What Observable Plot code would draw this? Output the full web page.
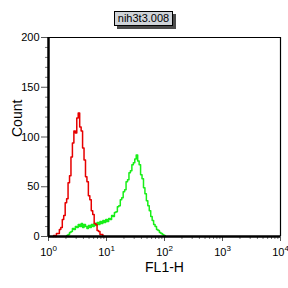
<!DOCTYPE html>
<html><head><meta charset="utf-8">
<script src="https://cdn.jsdelivr.net/npm/d3@7"></script>
<script src="https://cdn.jsdelivr.net/npm/@observablehq/plot@0.6"></script>
<style>
html,body{margin:0;padding:0;background:#fff;width:288px;height:288px;overflow:hidden}
#wrap{position:relative;width:288px;height:288px}
#title{position:absolute;left:114px;top:11px;width:57px;height:13px;line-height:13px;background:#cfd3d8;border:1px solid #000;box-shadow:3px 3px 0 #4a4a4a;font:11px "Liberation Sans",Arial,sans-serif;text-align:center;color:#000;z-index:2}
#chart{position:absolute;left:0;top:0}
</style></head>
<body><div id="wrap"><div id="title"></div><div id="chart"></div></div>
<script>
const title = "nih3t3.008";
const xLabel = "FL1-H";
const yLabel = "Count";
const xTicks = [1, 10, 100, 1000, 10000];
const xTickExp = ["0", "1", "2", "3", "4"];
const xMinorTicks = [2,3,4,5,6,7,8,9,20,30,40,50,60,70,80,90,200,300,400,500,600,700,800,900,2000,3000,4000,5000,6000,7000,8000,9000];
const yTicks = [0, 50, 100, 150, 200];
const yMinorTicks = [10,20,30,40,60,70,80,90,110,120,130,140,160,170,180,190];

const redFL1 = [1.19,1.26,1.33,1.41,1.50,1.58,1.68,1.78,1.88,2.00,2.11,2.24,2.37,2.51,2.66,2.82,2.99,3.16,3.35,3.55,3.76,3.98,4.22,4.47,4.73,5.01,5.31,5.62,5.96,6.31,6.68,7.08,7.50,7.94,8.41,8.91,9.44];
const redCount = [0,1,0,3,3,7,9,17,21,34,38,54,61,80,94,106,104,119,124,110,106,89,77,60,55,41,37,26,22,13,12,6,5,2,2,0,0];

const greenFL1 = [2.00,2.11,2.24,2.37,2.51,2.66,2.82,2.99,3.16,3.35,3.55,3.76,3.98,4.22,4.47,4.73,5.01,5.31,5.62,5.96,6.31,6.68,7.08,7.50,7.94,8.41,8.91,9.44,10.0,10.6,11.2,11.9,12.6,13.3,14.1,15.0,15.8,16.8,17.8,18.8,20.0,21.1,22.4,23.7,25.1,26.6,28.2,29.9,31.6,33.5,35.5,37.6,39.8,42.2,44.7,47.3,50.1,53.1,56.2,59.6,63.1,66.8,70.8,75.0,79.4,84.1,89.1,94.4,100,106];
const greenCount = [0,1,2,4,5,8,7,10,9,12,10,13,9,12,10,8,11,9,12,10,13,11,14,12,15,13,16,14,17,15,18,17,21,20,24,25,30,31,37,39,45,47,55,57,64,66,72,74,78,82,76,72,62,58,49,43,36,31,26,20,16,12,10,7,6,4,3,2,1,0];

document.getElementById("title").textContent = title;
const red = redFL1.map((x, i) => ({x, y: redCount[i]}));
const green = greenFL1.map((x, i) => ({x, y: greenCount[i]}));

const chart = Plot.plot({
  width: 288, height: 288,
  marginLeft: 48, marginRight: 8, marginTop: 37, marginBottom: 52,
  style: {fontFamily: '"Liberation Sans", Arial, sans-serif', fontSize: "11px", background: "white", color: "black"},
  x: {type: "log", domain: [1, 10000]},
  y: {domain: [0, 200]},
  marks: [
    Plot.line(green, {x: "x", y: "y", stroke: "#18ee18", strokeWidth: 1.5, curve: "step"}),
    Plot.line(red, {x: "x", y: "y", stroke: "#e60000", strokeWidth: 1.5, curve: "step"}),
    Plot.axisY({ticks: yTicks, tickSize: 7, tickPadding: 2, label: null, stroke: "#555"}),
    Plot.axisY({ticks: yMinorTicks, tickSize: 3, text: null, label: null, stroke: "#777"}),
    Plot.axisX({ticks: xTicks, tickSize: 5, tickPadding: 7, label: null, tickFormat: () => "10", stroke: "#555"}),
    Plot.axisX({ticks: xMinorTicks, tickSize: 3, text: null, label: null, stroke: "#777"}),
    Plot.ruleX([1], {stroke: "black", strokeWidth: 2.5}),
    Plot.ruleY([0], {stroke: "black", strokeWidth: 2.5}),
    Plot.ruleX([10000], {stroke: "black", strokeWidth: 1.2}),
    Plot.ruleY([200], {stroke: "black", strokeWidth: 1.2}),
    Plot.text([xLabel], {frameAnchor: "bottom", dy: 35, fontSize: 14}),
    Plot.text([yLabel], {frameAnchor: "left", dx: -31, rotate: -90, fontSize: 14})
  ]
});
document.getElementById("chart").appendChild(chart);

// superscript exponents on the major x tick labels
const xt = Array.from(chart.querySelectorAll('g[aria-label="x-axis tick label"] text')).filter(t => t.textContent === "10");
xt.forEach((t, i) => {
  t.textContent = "";
  const a = document.createElementNS("http://www.w3.org/2000/svg", "tspan");
  a.textContent = "10";
  const b = document.createElementNS("http://www.w3.org/2000/svg", "tspan");
  b.textContent = xTickExp[i];
  b.setAttribute("dy", "-5");
  b.setAttribute("font-size", "8");
  t.appendChild(a); t.appendChild(b);
});
</script></body></html>
